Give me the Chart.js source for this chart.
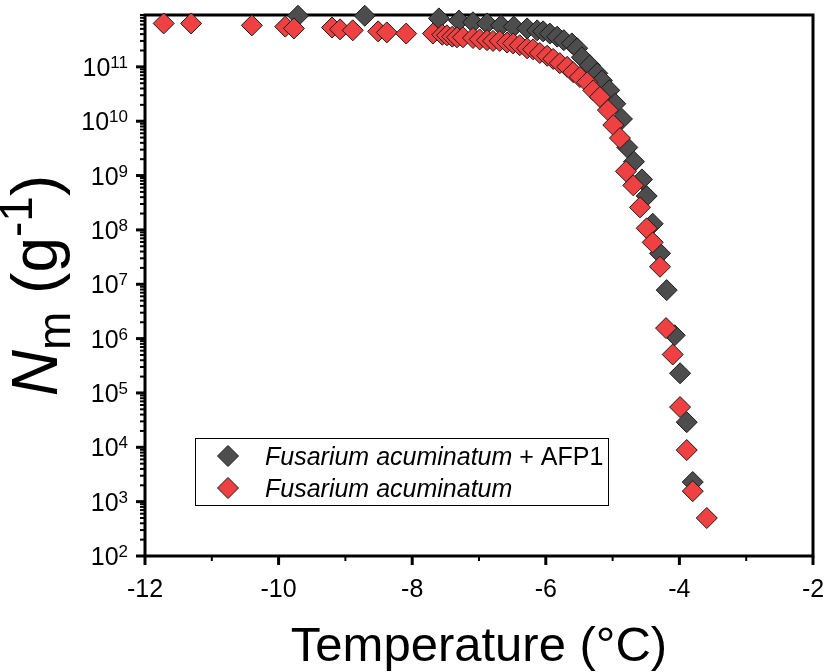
<!DOCTYPE html>
<html>
<head>
<meta charset="utf-8">
<script src="https://cdn.jsdelivr.net/npm/chart.js@4.4.1/dist/chart.umd.min.js"></script>
<style>
  html, body { margin: 0; padding: 0; background: #fff; }
</style>
</head>
<body>
<canvas id="chart" width="830" height="672"></canvas>
<script>
// Fusarium acuminatum + AFP1 (grey)
const afpTemp = [-9.71, -8.71, -7.60, -7.30, -7.09, -6.88, -6.67, -6.48, -6.28, -6.13, -6.04, -5.94,
  -5.83, -5.73, -5.61, -5.53, -5.46, -5.34, -5.23, -5.16, -5.05, -4.96, -4.86, -4.78, -4.68, -4.56,
  -4.49, -4.40, -4.29, -4.19, -4.07, -3.99, -3.89, -3.80];
const afpConc = [8.7e11, 8.7e11, 7.8e11, 7.1e11, 6.6e11, 6.3e11, 5.8e11, 5.5e11, 5.1e11, 4.7e11, 4.5e11, 4.1e11,
  3.6e11, 3.1e11, 2.7e11, 2.2e11, 1.5e11, 1.07e11, 7.6e10, 5.6e10, 3.7e10, 2.1e10, 1.1e10, 3.3e9, 1.8e9, 8.5e8,
  4.2e8, 1.3e8, 3.7e7, 7.8e6, 1.15e6, 2.3e5, 2.9e4, 2.3e3];

// Fusarium acuminatum (red)
const faTemp = [-11.72, -11.31, -10.40, -9.90, -9.77, -9.20, -9.08, -8.89, -8.51, -8.38, -8.09,
  -7.69, -7.55, -7.48, -7.40, -7.33, -7.24, -7.09, -6.99, -6.88, -6.79, -6.69, -6.58, -6.49, -6.39,
  -6.28, -6.19, -6.09, -5.98, -5.89, -5.79, -5.68, -5.59, -5.49, -5.38, -5.29, -5.19, -5.07, -4.99,
  -4.89, -4.80, -4.69, -4.59, -4.49, -4.40, -4.29, -4.20, -4.10, -3.99, -3.89, -3.80, -3.59];
const faConc = [6.3e11, 6.3e11, 5.8e11, 5.5e11, 5.1e11, 5.3e11, 4.9e11, 4.7e11, 4.5e11, 4.3e11, 4.1e11,
  4.1e11, 3.9e11, 3.8e11, 3.6e11, 3.5e11, 3.5e11, 3.4e11, 3.2e11, 3.1e11, 3.0e11, 3.0e11, 2.8e11, 2.7e11, 2.5e11,
  2.2e11, 2.1e11, 1.8e11, 1.6e11, 1.4e11, 1.17e11, 1.0e11, 8e10, 6.5e10, 5.2e10, 3.7e10, 2.8e10, 1.6e10, 8.5e9,
  4.9e9, 1.2e9, 6.6e8, 2.6e8, 1.07e8, 5.9e7, 2.1e7, 1.56e6, 5.1e5, 5.5e4, 8.9e3, 1.56e3, 5e2];

const xMajor = [-12, -10, -8, -6, -4, -2];
const xMinor = [-11, -9, -7, -5, -3];
const yExponents = [2, 3, 4, 5, 6, 7, 8, 9, 10, 11];
const seriesNames = ['Fusarium acuminatum', 'Fusarium acuminatum'];
const seriesSuffix = [' + AFP1', ''];
const seriesColors = ['#4d4d4d', '#ef4141'];

const FONT = '"Liberation Sans", Arial, sans-serif';

const pts = (xs, ys) => xs.map((x, i) => ({ x, y: ys[i] }));

function diamond(ctx, x, y, r, fill) {
  ctx.beginPath();
  ctx.moveTo(x, y - r);
  ctx.lineTo(x + r, y);
  ctx.lineTo(x, y + r);
  ctx.lineTo(x - r, y);
  ctx.closePath();
  ctx.fillStyle = fill;
  ctx.fill();
  ctx.lineWidth = 1;
  ctx.strokeStyle = '#1a1a1a';
  ctx.stroke();
}

const decor = {
  id: 'decor',
  beforeDatasetsDraw(chart) {
    const { ctx, chartArea: a, scales: { x, y } } = chart;
    ctx.save();
    ctx.strokeStyle = '#000';

    // x ticks
    xMajor.forEach(v => {
      const px = x.getPixelForValue(v);
      ctx.lineWidth = 3;
      ctx.beginPath(); ctx.moveTo(px, a.bottom); ctx.lineTo(px, a.bottom + 9); ctx.stroke();
    });
    xMinor.forEach(v => {
      const px = x.getPixelForValue(v);
      ctx.lineWidth = 2;
      ctx.beginPath(); ctx.moveTo(px, a.bottom); ctx.lineTo(px, a.bottom + 5); ctx.stroke();
    });

    // y ticks, decades and minors
    yExponents.forEach(e => {
      const py = y.getPixelForValue(Math.pow(10, e));
      ctx.lineWidth = 3;
      ctx.beginPath(); ctx.moveTo(a.left, py); ctx.lineTo(a.left - 9, py); ctx.stroke();
      for (let m = 2; m <= 9; m++) {
        const v = m * Math.pow(10, e);
        if (v > y.max) break;
        const pm = y.getPixelForValue(v);
        ctx.lineWidth = 2;
        ctx.beginPath(); ctx.moveTo(a.left, pm); ctx.lineTo(a.left - 5, pm); ctx.stroke();
      }
    });

    // frame
    ctx.lineWidth = 3;
    ctx.strokeRect(a.left, a.top, a.right - a.left, a.bottom - a.top);

    // y tick labels 10^n
    ctx.fillStyle = '#000';
    ctx.textAlign = 'left';
    ctx.textBaseline = 'alphabetic';
    yExponents.forEach(e => {
      const py = y.getPixelForValue(Math.pow(10, e));
      ctx.font = `17px ${FONT}`;
      const ew = ctx.measureText(String(e)).width;
      ctx.font = `25px ${FONT}`;
      const bw = ctx.measureText('10').width;
      const right = a.left - 17;
      ctx.fillText('10', right - ew - bw, py + 9);
      ctx.font = `17px ${FONT}`;
      ctx.fillText(String(e), right - ew, py + 1);
    });

    // y title: N_m (g^-1)
    const parts = [
      { t: 'N', f: `italic 64px ${FONT}`, dy: 0 },
      { t: 'm', f: `46px ${FONT}`, dy: 13 },
      { t: ' (g', f: `64px ${FONT}`, dy: 0 },
      { t: '-1', f: `46px ${FONT}`, dy: -25 },
      { t: ')', f: `64px ${FONT}`, dy: 0 }
    ];
    let total = 0;
    parts.forEach(p => { ctx.font = p.f; p.w = ctx.measureText(p.t).width; total += p.w; });
    ctx.translate(57, (a.top + a.bottom) / 2);
    ctx.rotate(-Math.PI / 2);
    let cx = -total / 2;
    parts.forEach(p => { ctx.font = p.f; ctx.fillText(p.t, cx, p.dy); cx += p.w; });
    ctx.restore();
  },
  afterDraw(chart) {
    const { ctx } = chart;
    ctx.save();
    ctx.lineWidth = 1;
    ctx.strokeStyle = '#000';
    ctx.strokeRect(195.5, 438.5, 413, 67);
    seriesNames.forEach((name, i) => {
      const cy = 456 + i * 32;
      diamond(ctx, 228, cy, 10.5, seriesColors[i]);
      ctx.fillStyle = '#000';
      ctx.textBaseline = 'alphabetic';
      ctx.font = `italic 25px ${FONT}`;
      ctx.fillText(name, 265, cy + 9);
      const w = ctx.measureText(name).width;
      ctx.font = `25px ${FONT}`;
      ctx.fillText(seriesSuffix[i], 265 + w, cy + 9);
    });
    ctx.restore();
  }
};

new Chart(document.getElementById('chart'), {
  type: 'scatter',
  data: {
    datasets: [
      {
        label: seriesNames[0] + seriesSuffix[0],
        data: pts(afpTemp, afpConc),
        backgroundColor: seriesColors[0],
        borderColor: '#1a1a1a',
        borderWidth: 1,
        pointStyle: 'rectRot',
        pointRadius: 10.5,
        pointHoverRadius: 10.5,
        order: 1,
        clip: false
      },
      {
        label: seriesNames[1],
        data: pts(faTemp, faConc),
        backgroundColor: seriesColors[1],
        borderColor: '#1a1a1a',
        borderWidth: 1,
        pointStyle: 'rectRot',
        pointRadius: 10.5,
        pointHoverRadius: 10.5,
        order: 0,
        clip: false
      }
    ]
  },
  options: {
    responsive: false,
    animation: false,
    layout: { padding: { top: 15, right: 17, left: 0, bottom: 0 } },
    plugins: { legend: { display: false }, tooltip: { enabled: false } },
    scales: {
      x: {
        type: 'linear',
        min: -12, max: -2,
        afterBuildTicks: s => { s.ticks = xMajor.map(v => ({ value: v })); },
        afterFit: s => { s.height = 116; },
        // small tick padding keeps the scale's side padding under the layout padding
        ticks: { color: '#000', font: { family: FONT, size: 25 }, padding: 2, maxRotation: 0 },
        grid: { display: false, drawTicks: true, tickLength: 17, color: 'rgba(0,0,0,0)' },
        border: { display: false },
        title: {
          display: true,
          text: 'Temperature (°C)',
          color: '#000',
          font: { family: FONT, size: 49, lineHeight: 1 },
          padding: 0
        }
      },
      y: {
        type: 'logarithmic',
        min: 100, max: 9e11,
        afterFit: s => { s.width = 145; },
        ticks: { display: false },
        grid: { display: false, drawTicks: false },
        border: { display: false }
      }
    }
  },
  plugins: [decor]
});
</script>
</body>
</html>
